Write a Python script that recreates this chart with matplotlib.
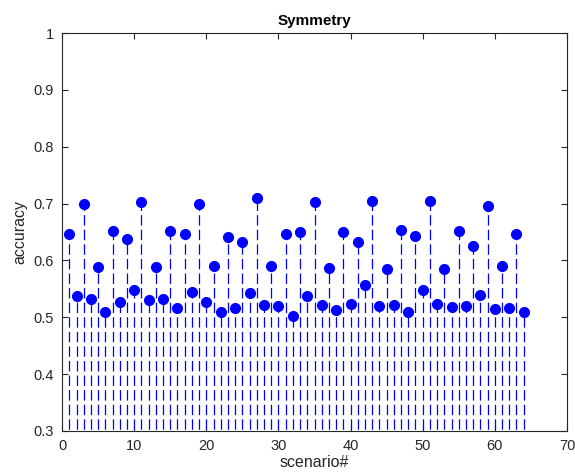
import matplotlib
matplotlib.use("Agg")
import matplotlib.pyplot as plt

plt.rcParams['font.family'] = ['Liberation Sans', 'DejaVu Sans']
plt.rcParams['lines.scale_dashes'] = False

# данные: номер сценария и точность
scenarios = list(range(1, 65))
accuracy = [
    0.647, 0.537, 0.699, 0.532, 0.589, 0.509, 0.652, 0.526,
    0.637, 0.548, 0.702, 0.531, 0.589, 0.532, 0.652, 0.517,
    0.646, 0.544, 0.699, 0.526, 0.591, 0.509, 0.642, 0.517,
    0.632, 0.542, 0.709, 0.522, 0.591, 0.520, 0.647, 0.502,
    0.650, 0.538, 0.702, 0.522, 0.587, 0.512, 0.650, 0.524,
    0.632, 0.557, 0.704, 0.520, 0.585, 0.522, 0.654, 0.509,
    0.643, 0.548, 0.704, 0.524, 0.585, 0.518, 0.652, 0.520,
    0.625, 0.540, 0.695, 0.514, 0.591, 0.517, 0.646, 0.509,
]
x_ticks = [0, 10, 20, 30, 40, 50, 60, 70]
y_ticks = [0.3, 0.4, 0.5, 0.6, 0.7, 0.8, 0.9, 1.0]

fig = plt.figure(figsize=(5.75, 4.72), dpi=100)
ax = fig.add_axes([0.108, 0.087, 0.878, 0.843])

markerline, stemlines, baseline = ax.stem(scenarios, accuracy, linefmt='b--',
                                          markerfmt='bo', basefmt=' ', bottom=0)
stemlines.set_linewidth(0.9)
stemlines.set_linestyle((0, (7.5, 3)))
markerline.set_markersize(7)

ax.set_xlim(0, 70)
ax.set_ylim(0.3, 1)
ax.set_xticks(x_ticks)
ax.set_yticks(y_ticks)
ax.set_yticklabels(['0.3', '0.4', '0.5', '0.6', '0.7', '0.8', '0.9', '1'])
ax.tick_params(direction='in', top=True, right=True, length=4, width=0.8,
               labelsize=10.5, colors='#262626', pad=6)
for s in ax.spines.values():
    s.set_linewidth(0.8)
    s.set_color('#262626')

ax.set_xlabel("scenario#", fontsize=11.5, color='#262626', labelpad=1)
ax.set_ylabel("accuracy", fontsize=11.5, color='#262626', labelpad=4)
ax.set_title("Symmetry", fontsize=11, fontweight='bold', pad=6)

fig.savefig("out.png", dpi=100)
